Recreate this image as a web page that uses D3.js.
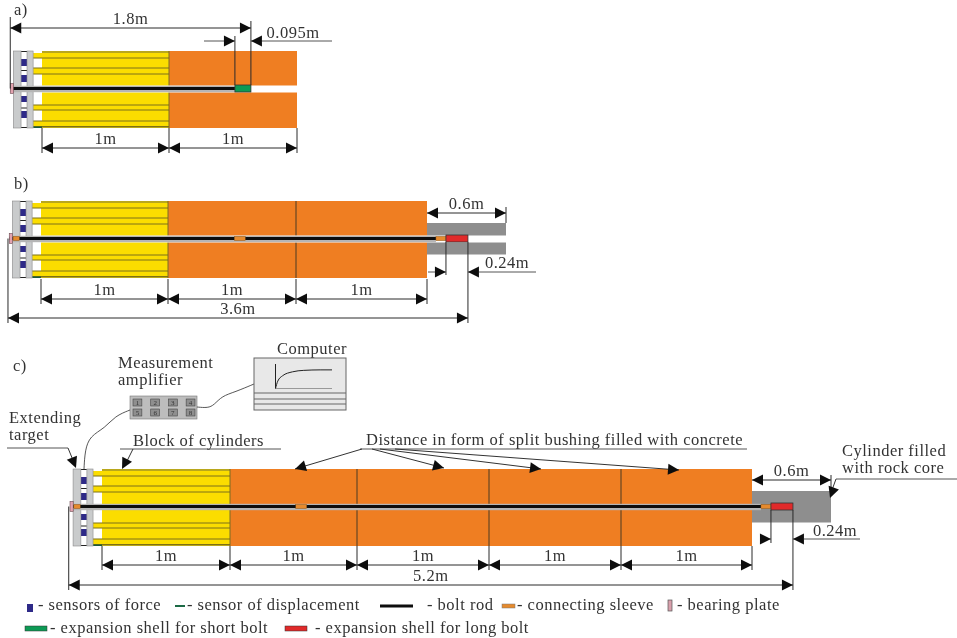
<!DOCTYPE html>
<html>
<head>
<meta charset="utf-8">
<script src="https://cdn.jsdelivr.net/npm/d3@7"></script>
<style>
  html, body { margin: 0; padding: 0; background: #fff; }
  svg { display: block; }
  text { font-family: "Liberation Serif", serif; fill: #333; font-size: 16.5px; letter-spacing: 0.5px; }
</style>
</head>
<body>
<script>
// segment lengths along the bolt, metres
const segmentsA = [1, 1]
const segmentsB = [1, 1, 1, 0.6]
const segmentsC = [1, 1, 1, 1, 1, 0.6]
const segmentLabel = '1m'

// bolt layout, metres from the block of cylinders
const boltStart = -0.25
const boltEndA = 1.515
const boltEndB = 3.068
const boltEndC = 5.068
const shellShort = [1.515, 1.64]
const shellLong = [0.144, 0.311]  // past the last bushing
const endSleeve = [0.068, 0.144]
const midSleeve = [1.518, 1.604]

// sensor positions across the section
const sensorRows = [[8, 15], [24, 31], [45, 51], [60, 67]]
const rodRows = [[2, 7], [17, 23], [54, 59], [70, 75.5]]
const rodLines = [7, 17, 23, 54, 59, 70, 75.5]
const gapLines = [0.5, 19.5, 57, 76.5]

// computer screen curve (fraction of the axes)
const curveX = [0, 0.04, 0.125, 0.3, 0.5, 0.79, 1]
const curveY = [0, 0.3, 0.52, 0.68, 0.74, 0.76, 0.76]
const channels = ['1', '2', '3', '4', '5', '6', '7', '8']

const c_yellow = '#fbdd05'
const c_orange = '#ef7e22'
const c_plate = '#c9cbcc'
const c_grey = '#8e8e8e'
const c_line = '#2a2a2a'
const c_olive = '#7d7012'
const c_blue = '#2f2a88'
const c_green = '#0e9a54'
const c_red = '#e12b2b'
const c_sleeve = '#e58a2d'

const svg = d3.select('body').append('svg')
  .attr('width', 957)
  .attr('height', 638)

const defs = svg.append('defs')
defs.append('filter')
  .attr('id', 'soft')
  .attr('x', 0).attr('y', 0).attr('width', 1).attr('height', 1)
  .append('feGaussianBlur')
  .attr('stdDeviation', 0.45)

const root = svg.append('g').attr('filter', 'url(#soft)')
root.append('rect').attr('width', 957).attr('height', 638).attr('fill', '#fff')

function hline (g, x1, x2, y, color = c_line, w = 1) {
  g.append('line').attr('x1', x1).attr('x2', x2).attr('y1', y).attr('y2', y)
    .attr('stroke', color).attr('stroke-width', w)
}

function vline (g, x, y1, y2, color = c_line, w = 1) {
  g.append('line').attr('x1', x).attr('x2', x).attr('y1', y1).attr('y2', y2)
    .attr('stroke', color).attr('stroke-width', w)
}

function arrow (g, x, y, angle) {
  g.append('path')
    .attr('d', 'M0,0L-11,-5.5L-11,5.5Z')
    .attr('transform', `translate(${x},${y}) rotate(${angle})`)
    .attr('fill', '#111')
}

function label (g, txt, x, y, anchor = 'middle') {
  return g.append('text').text(txt).attr('x', x).attr('y', y).attr('text-anchor', anchor)
}

function box (g, x1, x2, y1, y2, fill) {
  return g.append('rect')
    .attr('x', x1).attr('y', y1)
    .attr('width', x2 - x1).attr('height', y2 - y1)
    .attr('fill', fill)
}

// dimension with inward arrows at both ends
function dimension (g, x1, x2, y, txt) {
  hline(g, x1, x2, y)
  arrow(g, x1, y, 180)
  arrow(g, x2, y, 0)
  label(g, txt, (x1 + x2) / 2, y - 4)
}

// narrow dimension, arrows come from outside
function outerDimension (g, x1, x2, y, left, right, txt, tx, lift = 3) {
  hline(g, left, x1, y, '#555')
  hline(g, x2, right, y, '#555')
  arrow(g, x1, y, 0)
  arrow(g, x2, y, 180)
  label(g, txt, tx, y - lift)
}

/**
 * One anchor test stand, side view
 */
function drawStand (opts) {
  const { segments, xRange, top, boltEnd, hasLongShell, slotEnd } = opts
  const g = root.append('g')
  const x = d3.scaleLinear()
    .domain([0, ...d3.cumsum(segments)])
    .range(xRange)
  const y = d3.scaleLinear().domain([0, 77]).range([top, top + 77])
  const slotTop = y(34.5)
  const slotBottom = y(41.5)
  const mid = y(37.5)
  const blocks = hasLongShell ? segments.length - 1 : segments.length

  // yellow block
  box(g, x(0), x(1), y(0), y(77), c_yellow)
  box(g, x(0), x(1), y(0), y(2), '#b9a71e')
  box(g, x(0), x(1), y(75.5), y(77), '#b9a71e')
  rodRows.forEach((r) => box(g, x(-0.07), x(0), y(r[0]), y(r[1]), c_yellow))
  rodLines.forEach((r) => hline(g, x(-0.07), x(1), y(r), c_olive, 1))
  box(g, x(-0.07), x(0), y(75.5), y(77), '#1c5a3a')

  // orange bushings
  d3.range(1, blocks).forEach((i) => {
    box(g, x(i), x(i + 1), y(0), y(77), c_orange)
    if (i > 1) vline(g, x(i), y(0), y(77), '#4a3a20', 1)
  })
  vline(g, x(1), y(0), y(77), '#7a6a20', 1)

  // rock core cylinder
  if (hasLongShell) {
    const end = d3.sum(segments)
    box(g, x(blocks), x(end), y(22), y(53.5), c_grey)
  }

  // slot for the bolt
  box(g, x(-0.07), x(slotEnd), slotTop, slotBottom, '#fff')

  // plates and sensors
  const plates = [[-0.226, -0.165], [-0.118, -0.07]]
  sensorRows.forEach((r) => box(g, x(-0.165), x(-0.118), y(r[0]), y(r[1]), c_blue))
  gapLines.forEach((r) => hline(g, x(-0.165), x(-0.118), y(r), '#222', 1))
  plates.forEach((p) => {
    box(g, x(p[0]), x(p[1]), y(0), y(77), c_plate)
      .attr('stroke', '#8a8a8a').attr('stroke-width', 0.6)
  })

  // bolt rod
  box(g, x(boltStart), x(boltEnd), y(34.8), y(41.2), '#b5b5b5')
  box(g, x(boltStart), x(boltEnd), y(36), y(39), '#0c0c0c')

  // bearing plate
  box(g, x(-0.25), x(-0.225), y(32.5), y(42.5), '#e3a3b0')
    .attr('stroke', '#6a4a50').attr('stroke-width', 0.6)

  return { g, x, y, mid }
}

function sleeve (s, a, b) {
  box(s.g, s.x(a), s.x(b), s.mid - 2.2, s.mid + 2.2, c_sleeve)
    .attr('stroke', '#7a5020').attr('stroke-width', 0.4)
}

function shell (s, a, b, fill) {
  box(s.g, s.x(a), s.x(b), s.mid - 3.5, s.mid + 3.5, fill)
    .attr('stroke', '#333').attr('stroke-width', 0.8)
}

function segmentDims (s, n, y, bottom) {
  d3.range(n).forEach((i) => {
    dimension(s.g, s.x(i), s.x(i + 1), y, segmentLabel)
  })
  d3.range(n + 1).forEach((i) => vline(s.g, s.x(i), bottom, y + 5))
}

// a) short bolt
const a = drawStand({
  segments: segmentsA, xRange: [42, 169, 297], top: 51, boltEnd: boltEndA, hasLongShell: false, slotEnd: 2
})
shell(a, shellShort[0], shellShort[1], c_green)
label(root, 'a)', 14, 15, 'start')
vline(a.g, a.x(boltStart), 17, a.mid)
vline(a.g, a.x(shellShort[1]), 21, a.mid - 3.5)
vline(a.g, a.x(shellShort[0]), 36, a.mid - 3.5)
dimension(a.g, a.x(boltStart), a.x(shellShort[1]), 28, '1.8m')
outerDimension(a.g, a.x(shellShort[0]), a.x(shellShort[1]), 41, 204, 332, '0.095m', 293)
segmentDims(a, 2, 148, 128)

// b) long bolt, two bushings
const b = drawStand({
  segments: segmentsB, xRange: [41, 168, 296, 427, 506], top: 201, boltEnd: boltEndB, hasLongShell: true, slotEnd: 3.6
})
sleeve(b, midSleeve[0], midSleeve[1])
sleeve(b, -0.22, -0.17)
sleeve(b, 3 + endSleeve[0], 3 + endSleeve[1])
shell(b, 3 + shellLong[0], 3 + shellLong[1], c_red)
label(root, 'b)', 14, 189, 'start')
dimension(b.g, b.x(3), b.x(3.6), 213, '0.6m')
vline(b.g, b.x(3.6), 207, 223)
segmentDims(b, 3, 299, 279)
vline(b.g, b.x(3 + endSleeve[1]), b.mid + 3.5, 275)
vline(b.g, b.x(3 + shellLong[1]), b.mid + 3.5, 323)
outerDimension(b.g, b.x(3 + endSleeve[1]), b.x(3 + shellLong[1]), 272, 428, 536, '0.24m', 507, 4)
vline(b.g, b.x(-0.26), b.mid, 323)
dimension(b.g, b.x(-0.26), b.x(3 + shellLong[1]), 318, '3.6m')

// c) long bolt, four bushings
const c = drawStand({
  segments: segmentsC, xRange: [102, 230, 357, 489, 621, 752, 831], top: 469, boltEnd: boltEndC, hasLongShell: true, slotEnd: 0
})
sleeve(c, midSleeve[0], midSleeve[1])
sleeve(c, -0.22, -0.17)
sleeve(c, 5 + endSleeve[0], 5 + endSleeve[1])
shell(c, 5 + shellLong[0], 5 + shellLong[1], c_red)
label(root, 'c)', 13, 371, 'start')
dimension(c.g, c.x(5), c.x(5.6), 480, '0.6m')
vline(c.g, c.x(5.6), 475, 491)
segmentDims(c, 5, 565, 546)
vline(c.g, c.x(5 + endSleeve[1]), c.mid + 3.5, 543)
vline(c.g, c.x(5 + shellLong[1]), c.mid + 3.5, 590)
outerDimension(c.g, c.x(5 + endSleeve[1]), c.x(5 + shellLong[1]), 539, 760, 860, '0.24m', 835)
vline(c.g, c.x(-0.26), c.mid, 590)
dimension(c.g, c.x(-0.26), c.x(5 + shellLong[1]), 585, '5.2m')

// callouts
const wire = d3.line().curve(d3.curveBasis)
function leader (pts, color = '#444') {
  root.append('path').attr('d', wire(pts)).attr('fill', 'none')
    .attr('stroke', color).attr('stroke-width', 0.9)
}

label(root, 'Extending', 9, 423, 'start')
label(root, 'target', 9, 440, 'start')
hline(root, 7, 68, 448, '#555')
root.append('line').attr('x1', 68).attr('y1', 448).attr('x2', 75).attr('y2', 465).attr('stroke', '#333')
arrow(root, 76, 468, 68)

label(root, 'Block of cylinders', 133, 446, 'start')
hline(root, 120, 281, 449, '#555')
root.append('line').attr('x1', 133).attr('y1', 449).attr('x2', 125).attr('y2', 465).attr('stroke', '#333')
arrow(root, 122, 469, 118)

label(root, 'Distance in form of split bushing filled with concrete', 366, 445, 'start')
hline(root, 360, 747, 449, '#555')
const bushTips = [[295, 469, 362], [444, 468, 372], [541, 469, 380], [679, 470, 395]]
bushTips.forEach((t) => {
  root.append('line').attr('x1', t[2]).attr('y1', 449).attr('x2', t[0]).attr('y2', t[1]).attr('stroke', '#333')
  const ang = Math.atan2(t[1] - 449, t[0] - t[2]) * 180 / Math.PI
  arrow(root, t[0], t[1], ang)
})

label(root, 'Cylinder filled', 842, 456, 'start')
label(root, 'with rock core', 842, 473, 'start')
hline(root, 836, 957, 479, '#555')
root.append('line').attr('x1', 836).attr('y1', 479).attr('x2', 832).attr('y2', 490).attr('stroke', '#333')
arrow(root, 830, 498, 110)

// measurement amplifier
label(root, 'Measurement', 118, 368, 'start')
label(root, 'amplifier', 118, 385, 'start')
box(root, 130, 197, 396, 419, '#bdbdbd').attr('stroke', '#777').attr('stroke-width', 0.6)
const cell = d3.scaleBand().domain([0, 1, 2, 3]).range([133, 195]).paddingInner(0.5)
channels.forEach((ch, i) => {
  const cx = cell(i % 4)
  const cy = i < 4 ? 399 : 409
  box(root, cx, cx + cell.bandwidth(), cy, cy + 7, '#8f8f8f').attr('stroke', '#444').attr('stroke-width', 0.6)
  root.append('text').text(ch)
    .attr('x', cx + cell.bandwidth() / 2).attr('y', cy + 6.2)
    .attr('text-anchor', 'middle')
    .style('font-size', '7px').style('letter-spacing', 0)
})
leader([[197, 407], [208, 408], [214, 405], [222, 396], [235, 392], [254, 384]])
leader([[130, 410], [115, 416], [105, 428], [90, 436], [85, 450], [84, 469]])

// computer
label(root, 'Computer', 312, 354)
box(root, 254, 346, 358, 410, '#e8e8e8').attr('stroke', '#666').attr('stroke-width', 1)
const sx = d3.scaleLinear().domain([0, 1]).range([275.5, 332])
const sy = d3.scaleLinear().domain([0, 1]).range([388.5, 364])
vline(root, sx(0), sy(1), sy(0), '#222', 1)
hline(root, sx(0), sx(1), sy(0), '#999', 1)
root.append('path')
  .attr('d', d3.line().curve(d3.curveMonotoneX)
    .x((d, i) => sx(curveX[i]))
    .y((d) => sy(d))(curveY))
  .attr('fill', 'none').attr('stroke', '#222').attr('stroke-width', 1)
;[393, 399, 404].forEach((ly) => hline(root, 254, 346, ly, '#666', 1))

// legend
const legend = root.append('g')
box(legend, 27, 33, 604, 612, c_blue)
label(legend, '- sensors of force', 38, 610, 'start')
box(legend, 175, 185, 605, 607, '#1c6a44')
label(legend, '- sensor of displacement', 187, 610, 'start')
box(legend, 380, 413, 604.5, 607.5, '#0c0c0c')
label(legend, '- bolt rod', 427, 610, 'start')
box(legend, 502, 515, 604, 608, c_sleeve).attr('stroke', '#777').attr('stroke-width', 0.5)
label(legend, '- connecting sleeve', 517, 610, 'start')
box(legend, 668, 672, 600, 611, '#d9a0ac').attr('stroke', '#555').attr('stroke-width', 0.7)
label(legend, '- bearing plate', 677, 610, 'start')
box(legend, 25, 47, 626, 631, c_green).attr('stroke', '#333').attr('stroke-width', 0.5)
label(legend, '- expansion shell for short bolt', 50, 633, 'start')
box(legend, 285, 307, 626, 631, c_red).attr('stroke', '#333').attr('stroke-width', 0.5)
label(legend, '- expansion shell for long bolt', 315, 633, 'start')
</script>
</body>
</html>
